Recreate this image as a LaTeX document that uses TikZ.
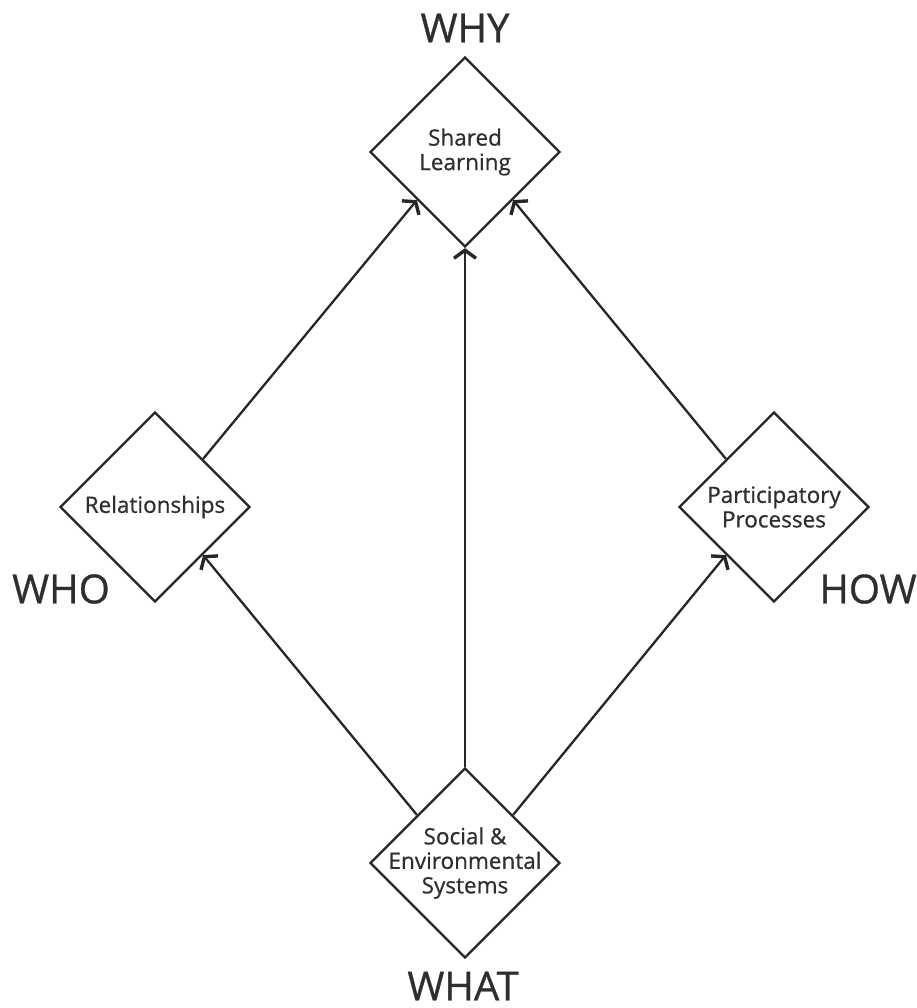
\documentclass[tikz,border=0pt]{standalone}
\usepackage{fontspec}
\setmainfont{Open Sans}[FakeBold=0.7]
\usetikzlibrary{shapes.geometric,arrows.meta}
\begin{document}
\begin{tikzpicture}[x=1pt, y=-1pt,
    box/.style={shape=diamond, draw=black!85, line width=2.3pt, minimum width=190pt, minimum height=190pt, inner sep=0pt},
    boxtext/.style={align=center, text=black!82, font=\fontsize{22.5}{24.5}\selectfont},
    big/.style={text=black!82, font=\fontsize{40}{44}\selectfont, inner sep=1pt},
    arr/.style={draw=black!85, line width=2.3pt, -{Straight Barb[length=8pt, width=22pt, line width=3.4pt]}}]
                        \useasboundingbox (0,0) rectangle (917,1008);
                        \node[box, label={[boxtext]center:Shared\\Learning}] (learn) at (465,152) {};
                        \node[box, label={[boxtext]center:Relationships}] (rel) at (155,507) {};
                        \node[box, label={[boxtext]center:Participatory\\Processes}] (proc) at (774,507) {};
                        \node[box, label={[boxtext]center:Social \&\\Environmental\\Systems}] (sys) at (465,863) {};
                        \node[big] (why) at (465,28) {WHY};
                        \node[big] (who) at (61,589) {WHO};
                        \node[big] (how) at (868,589) {HOW};
                        \node[big] (what) at (463,986) {WHAT};
                        \draw[arr] (sys.north west) -- (rel.south east);
                        \draw[arr] (sys.north east) -- (proc.south west);
                        \draw[arr] (sys.north) -- (learn.south);
                        \draw[arr] (rel.north east) -- (learn.south west);
                        \draw[arr] (proc.north west) -- (learn.south east);
                    \end{tikzpicture}
\end{document}
